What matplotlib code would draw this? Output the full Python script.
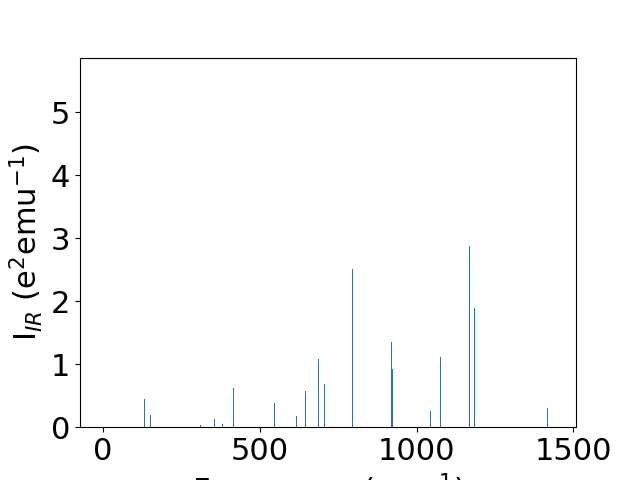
import numpy as np
import matplotlib.pyplot as plt

# IR modes: frequency (cm^-1) and intensity (e^2 emu^-1)
freqs = [131, 150, 310, 354, 380, 415, 546, 617, 646, 687, 706, 795,
         920, 923, 1044, 1076, 1169, 1185, 1418]
intensities = [0.44, 0.20, 0.03, 0.13, 0.05, 0.63, 0.38, 0.17, 0.57, 1.09, 0.68, 2.51,
               1.36, 0.92, 0.25, 1.11, 2.87, 1.89, 0.30]

plt.rcParams['font.size'] = 22

fig, ax = plt.subplots(figsize=(6.4, 4.8), dpi=100)
ax.bar(freqs, intensities, width=3, color='#1f77b4')

ax.set_xlim(-74, 1509)
ax.set_ylim(0, 5.87)
ax.set_xticks([0, 500, 1000, 1500])
ax.set_yticks([0, 1, 2, 3, 4, 5])
ax.set_xlabel('Frequency (cm$^{-1}$)')
ax.set_ylabel('I$_{IR}$ (e$^2$emu$^{-1}$)')

plt.savefig('out.png')
